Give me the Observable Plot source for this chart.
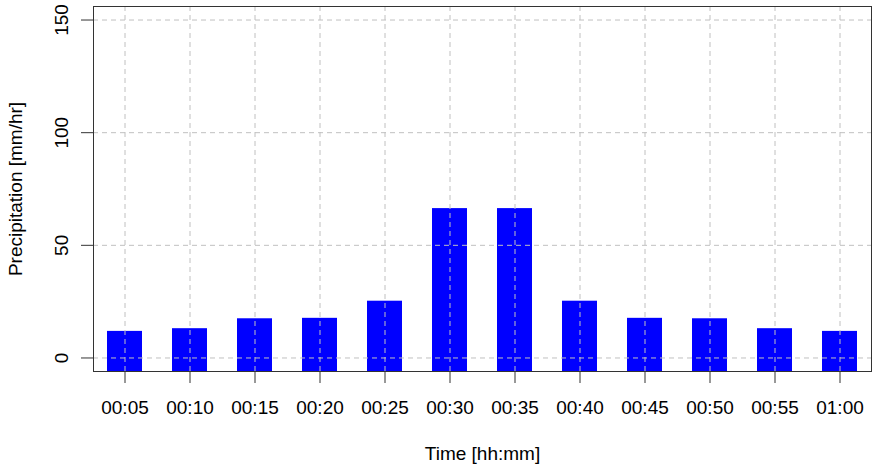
<!DOCTYPE html>
<html><head><meta charset="utf-8">
<script src="https://cdn.jsdelivr.net/npm/d3@7"></script>
<script src="https://cdn.jsdelivr.net/npm/@observablehq/plot@0.6"></script>
<style>html,body{margin:0;padding:0;background:#fff}</style>
</head><body><div id="chart"></div>
<script>
const times = ["00:05","00:10","00:15","00:20","00:25","00:30","00:35","00:40","00:45","00:50","00:55","01:00"];
const precipitation = [11.8, 13.0, 17.4, 17.6, 25.2, 66.3, 66.3, 25.2, 17.6, 17.4, 13.0, 11.8];
const yTicks = [0, 50, 100, 150];
const yDomain = [-6, 156];
const xTitle = "Time [hh:mm]";
const yTitle = "Precipitation [mm/hr]";

const data = times.map((t, i) => ({time: t, value: precipitation[i]}));
const gridStyle = {stroke: "#c0c0c0", strokeOpacity: 1, strokeDasharray: "5,4"};
const fs = 19;

const chart = Plot.plot({
  width: 872, height: 464,
  marginLeft: 93, marginRight: 1, marginTop: 6, marginBottom: 93,
  style: {fontFamily: "'Liberation Sans', Arial, sans-serif", fontSize: fs + "px", color: "#000", background: "#fff"},
  x: {domain: times, paddingInner: 0.455, paddingOuter: 0.17, label: null},
  y: {domain: yDomain, label: null},
  marks: [
    Plot.barY(data, {x: "time", y1: yDomain[0], y2: "value", fill: "#0000ff"}),
    Plot.gridY(yTicks, gridStyle),
    Plot.gridX(times, gridStyle),
    Plot.frame({stroke: "#333"}),
    Plot.axisY(yTicks, {tickSize: 12, tickPadding: 14, tickRotate: -90, fontSize: fs, stroke: "#333", label: null}),
    Plot.axisX({tickSize: 12, tickPadding: 16.8, fontSize: fs, stroke: "#333", label: null}),
    Plot.text([yTitle], {text: d => d, frameAnchor: "left", dx: -72, rotate: -90, textAnchor: "middle", lineAnchor: "bottom", fontSize: fs}),
    Plot.text([xTitle], {text: d => d, frameAnchor: "bottom", dy: 88.6, textAnchor: "middle", lineAnchor: "bottom", fontSize: fs})
  ]
});
document.getElementById("chart").appendChild(chart);
</script>
</body></html>
